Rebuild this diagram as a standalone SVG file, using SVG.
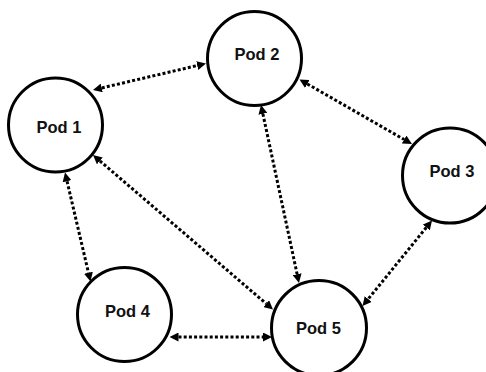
<svg xmlns="http://www.w3.org/2000/svg" width="486" height="372" viewBox="0 0 486 372">
  <style>
    .pod circle { fill: #ffffff; stroke: #000000; stroke-width: 3; }
    .pod text { font-family: "Liberation Sans", Arial, sans-serif; font-weight: bold; font-size: 16.5px; fill: #111111; text-anchor: middle; }
    .link { fill: none; stroke: #000000; stroke-width: 3; stroke-dasharray: 3 2.2; marker-start: url(#arrow); marker-end: url(#arrow); }
  </style>
  <defs>
    <marker id="arrow" viewBox="0 0 10 10" refX="0" refY="5" markerWidth="9" markerHeight="9" markerUnits="userSpaceOnUse" orient="auto-start-reverse">
      <path d="M0,0 L10,5 L0,10 z" fill="#000000"/>
    </marker>
  </defs>
  <rect width="486" height="372" fill="#ffffff"/>

  <g id="connectors">
    <!-- Pod 1 <-> Pod 2 -->
    <path class="link" d="M101.76,87.95 L197.24,65.55"/>
    <!-- Pod 2 <-> Pod 3 -->
    <path class="link" d="M307.31,83.98 L404.19,139.52"/>
    <!-- Pod 2 <-> Pod 5 -->
    <path class="link" d="M262.88,113.80 L297.12,274.20"/>
    <!-- Pod 1 <-> Pod 5 -->
    <path class="link" d="M99.83,160.86 L266.17,303.64"/>
    <!-- Pod 1 <-> Pod 4 -->
    <path class="link" d="M67.05,181.26 L88.45,272.74"/>
    <!-- Pod 4 <-> Pod 5 -->
    <path class="link" d="M178.5,337 L263,337"/>
    <!-- Pod 3 <-> Pod 5 -->
    <path class="link" d="M426.32,227.48 L368.18,299.02"/>
  </g>

  <g id="pod1" class="pod">
    <circle cx="55.5" cy="125" r="47"/>
    <text x="59" y="133">Pod 1</text>
  </g>
  <g id="pod2" class="pod">
    <circle cx="254.5" cy="58.5" r="47"/>
    <text x="257" y="60">Pod 2</text>
  </g>
  <g id="pod3" class="pod">
    <circle cx="450" cy="175.5" r="47.5"/>
    <text x="452" y="177">Pod 3</text>
  </g>
  <g id="pod4" class="pod">
    <circle cx="124.5" cy="314.5" r="47"/>
    <text x="127.5" y="317">Pod 4</text>
  </g>
  <g id="pod5" class="pod">
    <circle cx="319" cy="328" r="47.5"/>
    <text x="318.5" y="334">Pod 5</text>
  </g>
</svg>
